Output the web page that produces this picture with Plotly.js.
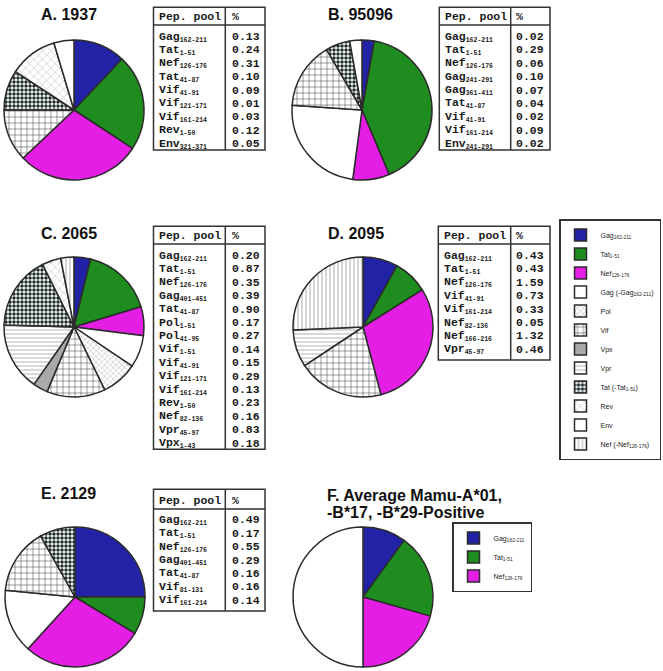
<!DOCTYPE html>
<html><head><meta charset="utf-8">
<script src="https://cdn.plot.ly/plotly-3.0.1.min.js"></script>
<style>html,body{margin:0;padding:0;background:#fff}#chart{width:663px;height:671px}</style>
</head><body><div id="chart"></div>
<script>
const W = 663, H = 671;

// ---------- DATA ----------
// A. 1937
const pepNamesA  = ['Gag','Tat','Nef','Tat','Vif','Vif','Vif','Rev','Env'];
const pepRangesA = ['162-211','1-51','126-176','41-87','41-91','121-171','161-214','1-50','321-371'];
const pctA       = [0.13,0.24,0.31,0.10,0.09,0.01,0.03,0.12,0.05];
// B. 95096
const pepNamesB  = ['Gag','Tat','Nef','Gag','Gag','Tat','Vif','Vif','Env'];
const pepRangesB = ['162-211','1-51','126-176','241-291','361-411','41-87','41-91','161-214','241-291'];
const pctB       = [0.02,0.29,0.06,0.10,0.07,0.04,0.02,0.09,0.02];
// C. 2065
const pepNamesC  = ['Gag','Tat','Nef','Gag','Tat','Pol','Pol','Vif','Vif','Vif','Vif','Rev','Nef','Vpr','Vpx'];
const pepRangesC = ['162-211','1-51','126-176','401-451','41-87','1-51','41-95','1-51','41-91','121-171','161-214','1-50','82-136','45-97','1-43'];
const pctC       = [0.20,0.87,0.35,0.39,0.90,0.17,0.27,0.14,0.15,0.29,0.13,0.23,0.16,0.83,0.18];
// D. 2095
const pepNamesD  = ['Gag','Tat','Nef','Vif','Vif','Nef','Nef','Vpr'];
const pepRangesD = ['162-211','1-51','126-176','41-91','161-214','82-136','166-216','45-97'];
const pctD       = [0.43,0.43,1.59,0.73,0.33,0.05,1.32,0.46];
// E. 2129
const pepNamesE  = ['Gag','Tat','Nef','Gag','Tat','Vif','Vif'];
const pepRangesE = ['162-211','1-51','126-176','401-451','41-87','81-131','161-214'];
const pctE       = [0.49,0.17,0.55,0.29,0.16,0.16,0.14];
// F. Average (fractions of pie)
const fKeys   = ['Gag162','Tat151','Nef126','Other'];
const fValues = [0.10,0.194,0.206,0.50];

// legend categories
const categoryKeys = ['Gag162','Tat151','Nef126','GagO','Pol','Vif','Vpx','Vpr','TatO','Rev','Env','NefO'];
const categoryLabels = ['Gag<sub>162-211</sub>','Tat<sub>1-51</sub>','Nef<sub>126-176</sub>',
  'Gag (-Gag<sub>162-211</sub>)','Pol','Vif','Vpx','Vpr','Tat (-Tat<sub>1-51</sub>)','Rev','Env',
  'Nef (-Nef<sub>126-176</sub>)'];
const tableHeader = ['Pep. pool','%'];
const panelTitles = ['A. 1937','B. 95096','C. 2065','D. 2095','E. 2129'];
const titleF = ['F. Average Mamu-A*01,','-B*17, -B*29-Positive'];

// ---------- STYLES ----------
const catStyle = {
  Gag162:{c:'#2222a6',s:'',fg:'#000',z:8,so:0.3},
  Tat151:{c:'#1f8c1f',s:'',fg:'#000',z:8,so:0.3},
  Nef126:{c:'#e41ee4',s:'',fg:'#000',z:8,so:0.3},
  GagO:{c:'#ffffff',s:'',fg:'#000',z:8,so:0.3},
  Pol:{c:'#ffffff',s:'x',fg:'#b5b5b5',z:4,so:0.25},
  Vif:{c:'#ffffff',s:'+',fg:'#3a3a3a',z:6,so:0.16},
  Vpx:{c:'#a9a9a9',s:'',fg:'#000',z:8,so:0.3},
  Vpr:{c:'#ffffff',s:'-',fg:'#a8a8a8',z:4,so:0.22},
  TatO:{c:'#ffffff',s:'.',fg:'#1e2b2b',z:4,so:0.6},
  Rev:{c:'#ffffff',s:'x',fg:'#b0b0b0',z:6,so:0.15},
  Env:{c:'#ffffff',s:'',fg:'#000',z:8,so:0.3},
  NefO:{c:'#ffffff',s:'|',fg:'#a0a0a0',z:4,so:0.22},
  Other:{c:'#ffffff',s:'',fg:'#000',z:8,so:0.3}
};
const labelOf = {}; categoryKeys.forEach((k,i)=>labelOf[k]=categoryLabels[i]); labelOf.Other='Other';

function catOf(name, range){
  if(name==='Gag') return range==='162-211' ? 'Gag162' : 'GagO';
  if(name==='Tat') return range==='1-51' ? 'Tat151' : 'TatO';
  if(name==='Nef') return range==='126-176' ? 'Nef126' : 'NefO';
  return name;
}
function group(names, ranges, vals){
  const sums = {};
  names.forEach((n,i)=>{ const k=catOf(n,ranges[i]); sums[k]=(sums[k]||0)+vals[i]; });
  const keys = categoryKeys.filter(k=>sums[k]>0);
  return {keys, values: keys.map(k=>sums[k])};
}
const px = x => x / W;
const py = y => 1 - y / H;

function pieTrace(cx, cy, r, keys, values, extra, labelSuffix){
  const suf = labelSuffix || '';
  return Object.assign({
    type:'pie', labels: keys.map(k=>labelOf[k] + suf), values: values,
    sort:false, direction:'clockwise', rotation:0, textinfo:'none', hoverinfo:'label+value',
    domain:{x:[px(cx-r), px(cx+r)], y:[py(cy+r), py(cy-r)]},
    marker:{
      colors: keys.map(k=>catStyle[k].c),
      line:{color:'#2b2b2b', width:1.5},
      pattern:{shape: keys.map(k=>catStyle[k].s), fgcolor: keys.map(k=>catStyle[k].fg),
               size: keys.map(k=>catStyle[k].z), solidity: keys.map(k=>catStyle[k].so), fillmode:'replace'}
    }
  }, extra||{});
}

const gA = group(pepNamesA,pepRangesA,pctA);
const gB = group(pepNamesB,pepRangesB,pctB);
const gC = group(pepNamesC,pepRangesC,pctC);
const gD = group(pepNamesD,pepRangesD,pctD);
const gE = group(pepNamesE,pepRangesE,pctE);
// totals across panels (used only to seed legend order)
const allNames = [].concat(pepNamesA,pepNamesB,pepNamesC,pepNamesD,pepNamesE);
const allRanges = [].concat(pepRangesA,pepRangesB,pepRangesC,pepRangesD,pepRangesE);
const allPct = [].concat(pctA,pctB,pctC,pctD,pctE);
const gAll = group(allNames, allRanges, allPct);

const R = 70;
const traces = [
  pieTrace(74,327,20,gAll.keys,gAll.values,{legend:'legend'}),       // legend seed, hidden under C
  pieTrace(363,597,20,fKeys.slice(0,3),fValues.slice(0,3),{legend:'legend2', legendgroup:'f'}, '\u200b'), // legend2 seed, hidden under F
  pieTrace(74,110,R,gA.keys,gA.values),
  pieTrace(362,110,R,gB.keys,gB.values),
  pieTrace(74,327,R,gC.keys,gC.values),
  pieTrace(363,327,R,gD.keys,gD.values),
  pieTrace(75,597,R,gE.keys,gE.values),
  pieTrace(363,597,R,fKeys,fValues,{showlegend:false})
];

// ---------- TABLES ----------
const shapes = [], annotations = [];
const monoFont = {family:'Liberation Mono, Courier New, monospace', size:11.5, color:'#1a1a1a', weight:'bold'};
const ROW = 13.4;
function addTable(t, names, ranges, vals){
  const ln = {color:'#333', width:1.5};
  shapes.push({type:'rect',xref:'paper',yref:'paper',x0:px(t.L),x1:px(t.R),y0:py(t.B),y1:py(t.T),line:ln});
  shapes.push({type:'line',xref:'paper',yref:'paper',x0:px(t.L),x1:px(t.R),y0:py(t.hl),y1:py(t.hl),line:ln});
  shapes.push({type:'line',xref:'paper',yref:'paper',x0:px(t.div),x1:px(t.div),y0:py(t.B),y1:py(t.T),line:ln});
  const A = (x,y,text)=>annotations.push({xref:'paper',yref:'paper',x:px(x),y:py(y),xanchor:'left',yanchor:'middle',
     text:text,showarrow:false,font:monoFont,borderpad:0});
  A(t.lx-1, t.hy, tableHeader[0]);
  A(t.nx-1, t.hy, tableHeader[1]);
  names.forEach((n,i)=>{
    const y = t.ry + i*ROW + 1.5;
    A(t.lx-1, y, n + '<sub><span style="font-size:6.5px">' + ranges[i] + '</span></sub>');
    A(t.nx-1, y, vals[i].toFixed(2));
  });
}
addTable({L:153.5,R:265,T:7.3,B:150,hl:25,div:225.3,lx:159.3,nx:231.7,hy:16.7,ry:35}, pepNamesA,pepRangesA,pctA);
addTable({L:439.3,R:550,T:7.3,B:150,hl:25,div:510.7,lx:445,nx:516,hy:16.7,ry:35}, pepNamesB,pepRangesB,pctB);
addTable({L:153.5,R:265,T:226.3,B:449.3,hl:244,div:225.3,lx:159.3,nx:231.7,hy:235.7,ry:254}, pepNamesC,pepRangesC,pctC);
addTable({L:438.3,R:550,T:226.3,B:360,hl:244,div:510.7,lx:444,nx:516,hy:235.7,ry:254}, pepNamesD,pepRangesD,pctD);
addTable({L:153.5,R:265,T:489.3,B:611,hl:509,div:225.3,lx:159.3,nx:231.7,hy:500,ry:518.3}, pepNamesE,pepRangesE,pctE);

// ---------- TITLES ----------
const titleFont = {family:'Liberation Sans, Arial, sans-serif', size:16, color:'#111', weight:'bold'};
const titlePos = [[40,14],[327,14],[40,234],[327,234],[40,493.5]];
panelTitles.forEach((t,i)=>annotations.push({xref:'paper',yref:'paper',x:px(titlePos[i][0]),y:py(titlePos[i][1]),
  xanchor:'left',yanchor:'middle',text:t,showarrow:false,font:titleFont,borderpad:0}));
titleF.forEach((t,i)=>annotations.push({xref:'paper',yref:'paper',x:px(326),y:py(495.5+i*16.7),
  xanchor:'left',yanchor:'middle',text:t,showarrow:false,font:titleFont,borderpad:0}));

const legFont = {family:'Liberation Sans, Arial, sans-serif', size:7, color:'#222'};
const layout = {
  width:W, height:H, margin:{l:0,r:0,t:0,b:0}, paper_bgcolor:'#fff', plot_bgcolor:'#fff',
  showlegend:true,
  legend:{x:px(661),xanchor:'right',y:py(219),yanchor:'top',bgcolor:'#fff',bordercolor:'#333',borderwidth:1.5,font:legFont,traceorder:'normal'},
  legend2:{x:px(452),xanchor:'left',y:py(522),yanchor:'top',bgcolor:'#fff',bordercolor:'#333',borderwidth:1.5,font:legFont,traceorder:'normal'},
  shapes:shapes, annotations:annotations
};
Plotly.newPlot('chart', traces, layout, {staticPlot:true, displayModeBar:false});
</script></body></html>
